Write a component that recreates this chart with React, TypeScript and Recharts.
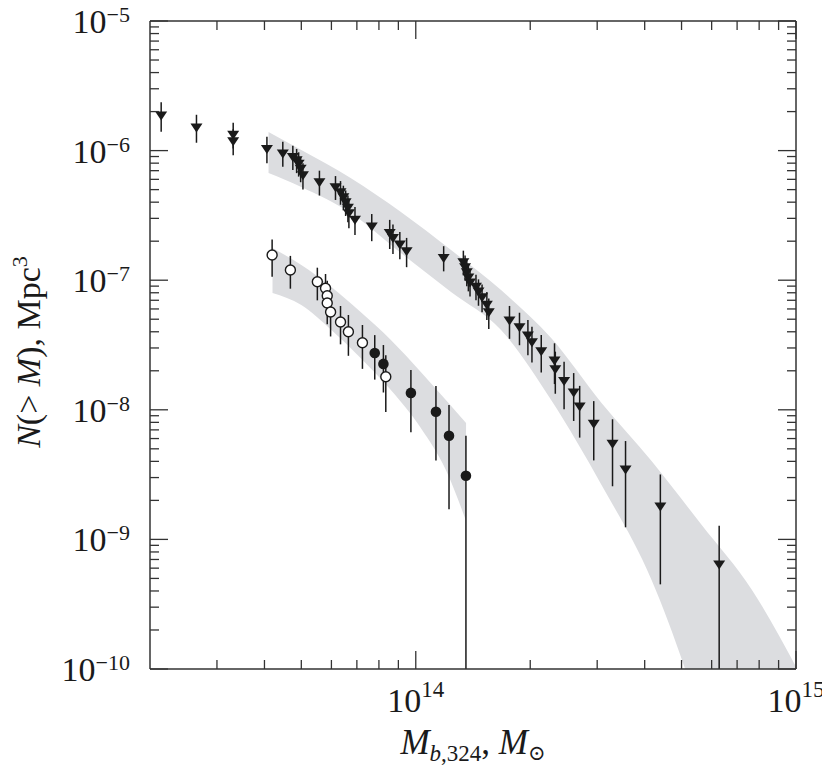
import React from "react";
import { ComposedChart, XAxis, YAxis, Area, Scatter, ErrorBar } from "recharts";

const SERIF = '"Liberation Serif", "Times New Roman", "DejaVu Serif", serif';
const INK = "#1a1a1a";
const FRAME = "#333333";
const BAND = "#dcdde0";

// downward triangles: mass (M_sun), N(>M) (Mpc^-3), 1-sigma error
const triMass = [
  2.14e13, 2.65e13, 3.31e13, 3.31e13, 4.06e13, 4.47e13, 4.75e13, 4.86e13, 4.92e13, 4.98e13,
  5.05e13, 5.58e13, 6.15e13, 6.34e13, 6.45e13, 6.54e13, 6.63e13, 6.67e13, 6.92e13, 7.66e13,
  8.54e13, 8.71e13, 9.08e13, 9.46e13, 1.184e14, 1.334e14, 1.348e14, 1.362e14, 1.375e14, 1.389e14,
  1.44e14, 1.462e14, 1.494e14, 1.538e14, 1.556e14, 1.764e14, 1.874e14, 1.972e14, 2.021e14, 2.138e14,
  2.317e14, 2.328e14, 2.455e14, 2.602e14, 2.698e14, 2.938e14, 3.292e14, 3.562e14, 4.398e14, 6.28e14,
];
const triN = [
  1.88e-6, 1.52e-6, 1.34e-6, 1.19e-6, 1.04e-6, 9.6e-7, 9.0e-7, 8.5e-7, 8.0e-7, 7.3e-7,
  6.5e-7, 5.75e-7, 5.26e-7, 4.82e-7, 4.41e-7, 4.03e-7, 3.65e-7, 3.32e-7, 2.95e-7, 2.62e-7,
  2.33e-7, 2.14e-7, 1.9e-7, 1.69e-7, 1.5e-7, 1.39e-7, 1.27e-7, 1.16e-7, 1.06e-7, 9.7e-8,
  9.0e-8, 8.25e-8, 7.46e-8, 6.52e-8, 5.71e-8, 4.93e-8, 4.38e-8, 3.78e-8, 3.35e-8, 2.86e-8,
  2.42e-8, 2.07e-8, 1.68e-8, 1.37e-8, 1.07e-8, 7.87e-9, 5.51e-9, 3.49e-9, 1.81e-9, 6.46e-10,
];
const triSigma = [
  4.8e-7, 3.7e-7, 3.0e-7, 2.7e-7, 2.4e-7, 2.1e-7, 1.9e-7, 1.8e-7, 1.7e-7, 1.6e-7,
  1.5e-7, 1.25e-7, 1.1e-7, 1.0e-7, 9.5e-8, 9.0e-8, 8.5e-8, 8.0e-8, 7.2e-8, 6.2e-8,
  5.9e-8, 5.5e-8, 4.5e-8, 4.3e-8, 3.3e-8, 3.0e-8, 2.8e-8, 2.6e-8, 2.4e-8, 2.2e-8,
  2.0e-8, 1.9e-8, 1.8e-8, 1.6e-8, 1.5e-8, 1.4e-8, 1.23e-8, 1.15e-8, 1.03e-8, 9.2e-9,
  8.4e-9, 7.4e-9, 6.7e-9, 5.5e-9, 4.6e-9, 3.8e-9, 2.94e-9, 2.25e-9, 1.36e-9, 6.3e-10,
];

// open circles
const openMass = [4.19e13, 4.68e13, 5.51e13, 5.79e13, 5.85e13, 5.85e13, 5.97e13, 6.34e13, 6.65e13, 7.24e13, 8.34e13];
const openN = [1.565e-7, 1.2e-7, 9.74e-8, 8.66e-8, 7.59e-8, 6.67e-8, 5.68e-8, 4.76e-8, 4.0e-8, 3.29e-8, 1.8e-8];
const openSigma = [5.0e-8, 3.4e-8, 2.75e-8, 2.5e-8, 2.3e-8, 2.1e-8, 2.0e-8, 1.56e-8, 1.39e-8, 1.22e-8, 8.4e-9];

// filled circles
const filledMass = [7.8e13, 8.22e13, 9.71e13, 1.13e14, 1.223e14, 1.355e14];
const filledN = [2.74e-8, 2.26e-8, 1.35e-8, 9.67e-9, 6.31e-9, 3.1e-9];
const filledSigma = [1.03e-8, 9.0e-9, 6.8e-9, 5.6e-9, 4.6e-9, 3.2e-9];

// grey bands (model ranges)
const upperBandMass = [4.1e13, 5.0e13, 6.74e13, 9.14e13, 1.238e14, 1.676e14, 2.27e14, 3.08e14, 4.17e14, 5.65e14, 7.66e14, 1.0e15];
const upperBandHigh = [1.39e-6, 1.01e-6, 6.15e-7, 3.36e-7, 1.71e-7, 8.4e-8, 3.58e-8, 1.13e-8, 4.03e-9, 1.29e-9, 4.07e-10, 1.04e-10];
const upperBandLow = [6.72e-7, 5.24e-7, 3.3e-7, 1.62e-7, 8.11e-8, 4.13e-8, 1.19e-8, 2.63e-9, 4.86e-10, 4.04e-11, 1.65e-12, 2.79e-13];

const lowerBandMass = [4.2e13, 5.0e13, 6.0e13, 7.16e13, 8.6e13, 1.031e14, 1.2e14, 1.356e14];
const lowerBandHigh = [1.77e-7, 1.31e-7, 8.86e-8, 5.68e-8, 3.46e-8, 1.96e-8, 1.19e-8, 7.91e-9];
const lowerBandLow = [7.96e-8, 6.43e-8, 4.13e-8, 2.51e-8, 1.42e-8, 7.24e-9, 3.43e-9, 1.39e-9];

// axis ticks
const xMajorTicks = [1e14, 1e15];
const xMinorTicks = [3e13, 4e13, 5e13, 6e13, 7e13, 8e13, 9e13, 2e14, 3e14, 4e14, 5e14, 6e14, 7e14, 8e14, 9e14];
const yMajorTicks = [1e-10, 1e-9, 1e-8, 1e-7, 1e-6, 1e-5];
const yMinorTicks = [
  2e-10, 3e-10, 4e-10, 5e-10, 6e-10, 7e-10, 8e-10, 9e-10,
  2e-9, 3e-9, 4e-9, 5e-9, 6e-9, 7e-9, 8e-9, 9e-9,
  2e-8, 3e-8, 4e-8, 5e-8, 6e-8, 7e-8, 8e-8, 9e-8,
  2e-7, 3e-7, 4e-7, 5e-7, 6e-7, 7e-7, 8e-7, 9e-7,
  2e-6, 3e-6, 4e-6, 5e-6, 6e-6, 7e-6, 8e-6, 9e-6,
];

const X_DOMAIN = [2e13, 1e15];
const Y_DOMAIN = [1e-10, 1e-5];
const xTicks = [...xMinorTicks, ...xMajorTicks];
const yTicks = [...yMinorTicks, ...yMajorTicks];

function points(mass: number[], n: number[], sigma: number[]) {
  // symmetric errors; a bar that would go below the frame stops at the bottom of the plot
  return mass.map((m, i) => {
    const lowEnd = Math.max(n[i] - sigma[i], Y_DOMAIN[0]);
    return { m, n: n[i], err: [n[i] - lowEnd, sigma[i]] };
  });
}

function band(mass: number[], low: number[], high: number[]) {
  return mass.map((m, i) => ({ m, range: [low[i], high[i]] }));
}

const triData = points(triMass, triN, triSigma);
const openData = points(openMass, openN, openSigma);
const filledData = points(filledMass, filledN, filledSigma);
const upperBand = band(upperBandMass, upperBandLow, upperBandHigh);
const lowerBand = band(lowerBandMass, lowerBandLow, lowerBandHigh);

const isMajor = (v: number) => Math.abs(Math.log10(v) - Math.round(Math.log10(v))) < 1e-6;
const expOf = (v: number) => String(Math.round(Math.log10(v))).replace("-", "\u2212");

const MAJOR = 18;
const MINOR = 9;

function BottomTick({ x, y, payload }: any) {
  const major = isMajor(payload.value);
  return (
    <g>
      <line x1={x} x2={x} y1={y} y2={y - (major ? MAJOR : MINOR)} stroke={FRAME} strokeWidth={1.3} />
      {major && (
        <text x={x} y={y + 43} textAnchor="middle" fontFamily={SERIF} fontSize={34} fill={INK}>
          10<tspan fontSize={23} dy={-15}>{expOf(payload.value)}</tspan>
        </text>
      )}
    </g>
  );
}

function TopTick({ x, y, payload }: any) {
  const major = isMajor(payload.value);
  return <line x1={x} x2={x} y1={y} y2={y + (major ? MAJOR : MINOR)} stroke={FRAME} strokeWidth={1.3} />;
}

function LeftTick({ x, y, payload }: any) {
  const major = isMajor(payload.value);
  return (
    <g>
      <line x1={x} x2={x + (major ? MAJOR : MINOR)} y1={y} y2={y} stroke={FRAME} strokeWidth={1.3} />
      {major && (
        <text x={x - 20} y={y + 12} textAnchor="end" fontFamily={SERIF} fontSize={34} fill={INK}>
          10<tspan fontSize={22} dy={-11}>{expOf(payload.value)}</tspan>
        </text>
      )}
    </g>
  );
}

function RightTick({ x, y, payload }: any) {
  const major = isMajor(payload.value);
  return <line x1={x} x2={x - (major ? MAJOR : MINOR)} y1={y} y2={y} stroke={FRAME} strokeWidth={1.3} />;
}

const DownTriangle = (p: any) => (
  <path d={`M${p.cx - 6},${p.cy - 3.5}L${p.cx + 6},${p.cy - 3.5}L${p.cx},${p.cy + 5.5}Z`} fill={INK} />
);
const OpenCircle = (p: any) => <circle cx={p.cx} cy={p.cy} r={5} fill="#fff" stroke={INK} strokeWidth={1.4} />;
const FilledCircle = (p: any) => <circle cx={p.cx} cy={p.cy} r={5.3} fill={INK} />;

function XTitle(props: any) {
  const { x, y, width } = props.viewBox;
  return (
    <text x={x + width / 2} y={y + 85} textAnchor="middle" fontFamily={SERIF} fontSize={35} fill={INK}>
      <tspan fontStyle="italic">M</tspan>
      <tspan fontSize={23} fontStyle="italic" dy={7}>b</tspan>
      <tspan fontSize={23}>,324</tspan>
      <tspan dy={-7}>, </tspan>
      <tspan fontStyle="italic">M</tspan>
      <tspan fontSize={21} dy={6}>⊙</tspan>
    </text>
  );
}

function YTitle(props: any) {
  const { x, y } = props.viewBox;
  const tx = x - 109;
  const ty = y + 331;
  return (
    <text x={tx} y={ty} transform={`rotate(-90, ${tx}, ${ty})`} textAnchor="middle" fontFamily={SERIF} fontSize={34} fill={INK}>
      <tspan fontStyle="italic">N</tspan>
      <tspan>{"(> "}</tspan>
      <tspan fontStyle="italic">M</tspan>
      <tspan>{"), Mpc"}</tspan>
      <tspan fontSize={22} dy={-13}>3</tspan>
    </text>
  );
}

export default function App() {
  const axisLine = { stroke: FRAME, strokeWidth: 1.5 };
  return (
    <div style={{ margin: "-8px 0 0 -8px", width: 830, height: 768 }}>
      <ComposedChart
        width={830}
        height={768}
        margin={{ top: 20, right: 33, bottom: 98, left: 149 }}
        style={{ overflow: "visible" }}
      >
        <XAxis
          xAxisId="b"
          dataKey="m"
          type="number"
          scale="log"
          domain={X_DOMAIN}
          allowDataOverflow
          ticks={xTicks}
          interval={0}
          height={1}
          tickSize={0}
          tickMargin={0}
          tickLine={false}
          axisLine={axisLine}
          tick={(p: any) => <BottomTick {...p} />}
          label={{ content: (p: any) => <XTitle {...p} /> }}
        />
        <XAxis
          xAxisId="t"
          orientation="top"
          dataKey="m"
          type="number"
          scale="log"
          domain={X_DOMAIN}
          allowDataOverflow
          ticks={xTicks}
          interval={0}
          height={1}
          tickSize={0}
          tickMargin={0}
          tickLine={false}
          axisLine={axisLine}
          tick={(p: any) => <TopTick {...p} />}
        />
        <YAxis
          yAxisId="l"
          type="number"
          scale="log"
          domain={Y_DOMAIN}
          allowDataOverflow
          ticks={yTicks}
          interval={0}
          width={1}
          tickSize={0}
          tickMargin={0}
          tickLine={false}
          axisLine={axisLine}
          tick={(p: any) => <LeftTick {...p} />}
          label={{ content: (p: any) => <YTitle {...p} /> }}
        />
        <YAxis
          yAxisId="r"
          orientation="right"
          type="number"
          scale="log"
          domain={Y_DOMAIN}
          allowDataOverflow
          ticks={yTicks}
          interval={0}
          width={1}
          tickSize={0}
          tickMargin={0}
          tickLine={false}
          axisLine={axisLine}
          tick={(p: any) => <RightTick {...p} />}
        />

        <Area
          xAxisId="b"
          yAxisId="l"
          data={upperBand}
          dataKey="range"
          type="monotone"
          stroke="none"
          fill={BAND}
          fillOpacity={1}
          dot={false}
          activeDot={false}
          isAnimationActive={false}
        />
        <Area
          xAxisId="b"
          yAxisId="l"
          data={lowerBand}
          dataKey="range"
          type="monotone"
          stroke="none"
          fill={BAND}
          fillOpacity={1}
          dot={false}
          activeDot={false}
          isAnimationActive={false}
        />

        <Scatter xAxisId="b" yAxisId="l" data={filledData} dataKey="n" shape={FilledCircle} isAnimationActive={false}>
          <ErrorBar dataKey="err" direction="y" width={0} stroke={INK} strokeWidth={1.5} isAnimationActive={false} />
        </Scatter>
        <Scatter xAxisId="b" yAxisId="l" data={openData} dataKey="n" shape={OpenCircle} isAnimationActive={false}>
          <ErrorBar dataKey="err" direction="y" width={0} stroke={INK} strokeWidth={1.5} isAnimationActive={false} />
        </Scatter>
        <Scatter xAxisId="b" yAxisId="l" data={triData} dataKey="n" shape={DownTriangle} isAnimationActive={false}>
          <ErrorBar dataKey="err" direction="y" width={0} stroke={INK} strokeWidth={1.5} isAnimationActive={false} />
        </Scatter>
      </ComposedChart>
    </div>
  );
}
